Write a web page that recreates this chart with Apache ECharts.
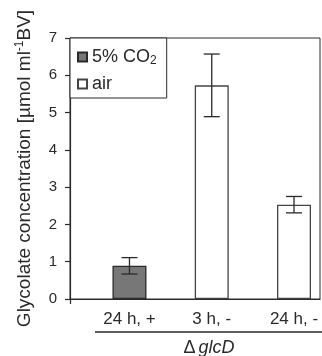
<!DOCTYPE html>
<html><head><meta charset="utf-8">
<script src="https://cdn.jsdelivr.net/npm/echarts@6/dist/echarts.min.js"></script>
<style>html,body{margin:0;padding:0;background:#fff}#c{width:322px;height:356px}</style>
</head><body><div id="c"></div>
<script>
const categories = ['24 h, +', '3 h, -', '24 h, -'];
const co2Values = [0.89, null, null];
const airValues = [null, 5.73, 2.53];
const errors = [0.22, 0.84, 0.22];
const yTicks = [0, 1, 2, 3, 4, 5, 6, 7];
const groupLabel = ['Δ', 'glcD'];

const FONT = 'Liberation Sans';
const INK = '#2a2a2a';
const X_MIN = -0.723, X_MAX = 2.316;

const co2Data = [], airData = [], errData = [];
categories.forEach((c, i) => {
  if (co2Values[i] != null) co2Data.push([i, co2Values[i]]);
  if (airValues[i] != null) airData.push([i, airValues[i]]);
  const m = co2Values[i] != null ? co2Values[i] : airValues[i];
  errData.push([i, m - errors[i], m + errors[i]]);
});

const chart = echarts.init(document.getElementById('c'), null, {renderer: 'canvas'});
chart.setOption({
  animation: false,
  backgroundColor: '#fff',
  textStyle: {fontFamily: FONT, color: INK},
  grid: {left: 70, right: 2, top: 38, bottom: 57, show: true, borderColor: INK, borderWidth: 1, backgroundColor: 'transparent'},
  legend: {
    orient: 'vertical', left: 70, top: 38,
    backgroundColor: '#fff', borderColor: INK, borderWidth: 1,
    padding: [9, 10, 4, 7], itemGap: 7, itemWidth: 9, itemHeight: 9,
    icon: 'rect',
    textStyle: {fontFamily: FONT, fontSize: 18, color: INK, lineHeight: 20,
      rich: {sub: {fontFamily: FONT, fontSize: 12, color: INK, verticalAlign: 'bottom', lineHeight: 20, padding: [8, 0, 0, 0]}}},
    formatter: n => n === '5% CO2' ? '5% CO{sub|2}' : n,
    data: ['5% CO2', 'air']
  },
  xAxis: {
    type: 'value', min: X_MIN, max: X_MAX,
    splitLine: {show: false},
    axisLine: {show: true, onZero: false, lineStyle: {color: INK, width: 1.2}},
    axisTick: {show: true, customValues: [X_MIN], length: 5, lineStyle: {color: INK, width: 1.2}},
    axisLabel: {customValues: [0, 1, 2], formatter: v => categories[Math.round(v)], fontFamily: FONT, fontSize: 17, color: INK, margin: 12}
  },
  yAxis: {
    type: 'value', min: 0, max: 7, interval: 1,
    splitLine: {show: false},
    axisLine: {show: true, onZero: false, lineStyle: {color: INK, width: 1.2}},
    axisTick: {show: true, length: 5, lineStyle: {color: INK, width: 1.2}},
    axisLabel: {fontFamily: FONT, fontSize: 15, color: INK, margin: 13, formatter: v => yTicks.includes(v) ? String(v) : ''},
    name: 'Glycolate concentration [µmol ml{sup|-1}BV]',
    nameLocation: 'middle', nameGap: 34, nameRotate: 90,
    nameTextStyle: {fontFamily: FONT, fontSize: 19, color: INK, lineHeight: 22,
      rich: {sup: {fontFamily: FONT, fontSize: 12, color: INK, verticalAlign: 'top', lineHeight: 22, padding: [0, 0, 8, 0]}}}
  },
  graphic: [
    {type: 'line', shape: {x1: 95, y1: 332, x2: 322, y2: 332}, style: {stroke: INK, lineWidth: 1.5}},
    {type: 'text', x: 209, y: 348, style: {
      text: '{a|' + groupLabel[0] + '}{b|' + groupLabel[1] + '}', align: 'center', verticalAlign: 'middle',
      rich: {a: {fontFamily: FONT, fontSize: 18, fill: INK, padding: [0, 3, 0, 0]}, b: {fontFamily: FONT, fontSize: 18, fontStyle: 'italic', fill: INK}}}}
  ],
  series: [
    {name: '5% CO2', type: 'bar', data: co2Data, barWidth: 34, barGap: '-100%',
      itemStyle: {color: '#777777', borderColor: INK, borderWidth: 1.3}},
    {name: 'air', type: 'bar', data: airData, barWidth: 34, barGap: '-100%',
      itemStyle: {color: '#ffffff', borderColor: '#444', borderWidth: 1.3}},
    {name: 'err', type: 'custom', data: errData, z: 10,
      renderItem: (params, api) => {
        const lo = api.coord([api.value(0), api.value(1)]);
        const hi = api.coord([api.value(0), api.value(2)]);
        const w = 8;
        const st = {stroke: INK, lineWidth: 1.3};
        return {type: 'group', children: [
          {type: 'line', shape: {x1: lo[0], y1: lo[1], x2: hi[0], y2: hi[1]}, style: st},
          {type: 'line', shape: {x1: lo[0] - w, y1: lo[1], x2: lo[0] + w, y2: lo[1]}, style: st},
          {type: 'line', shape: {x1: hi[0] - w, y1: hi[1], x2: hi[0] + w, y2: hi[1]}, style: st}
        ]};
      }}
  ]
});
</script></body></html>
